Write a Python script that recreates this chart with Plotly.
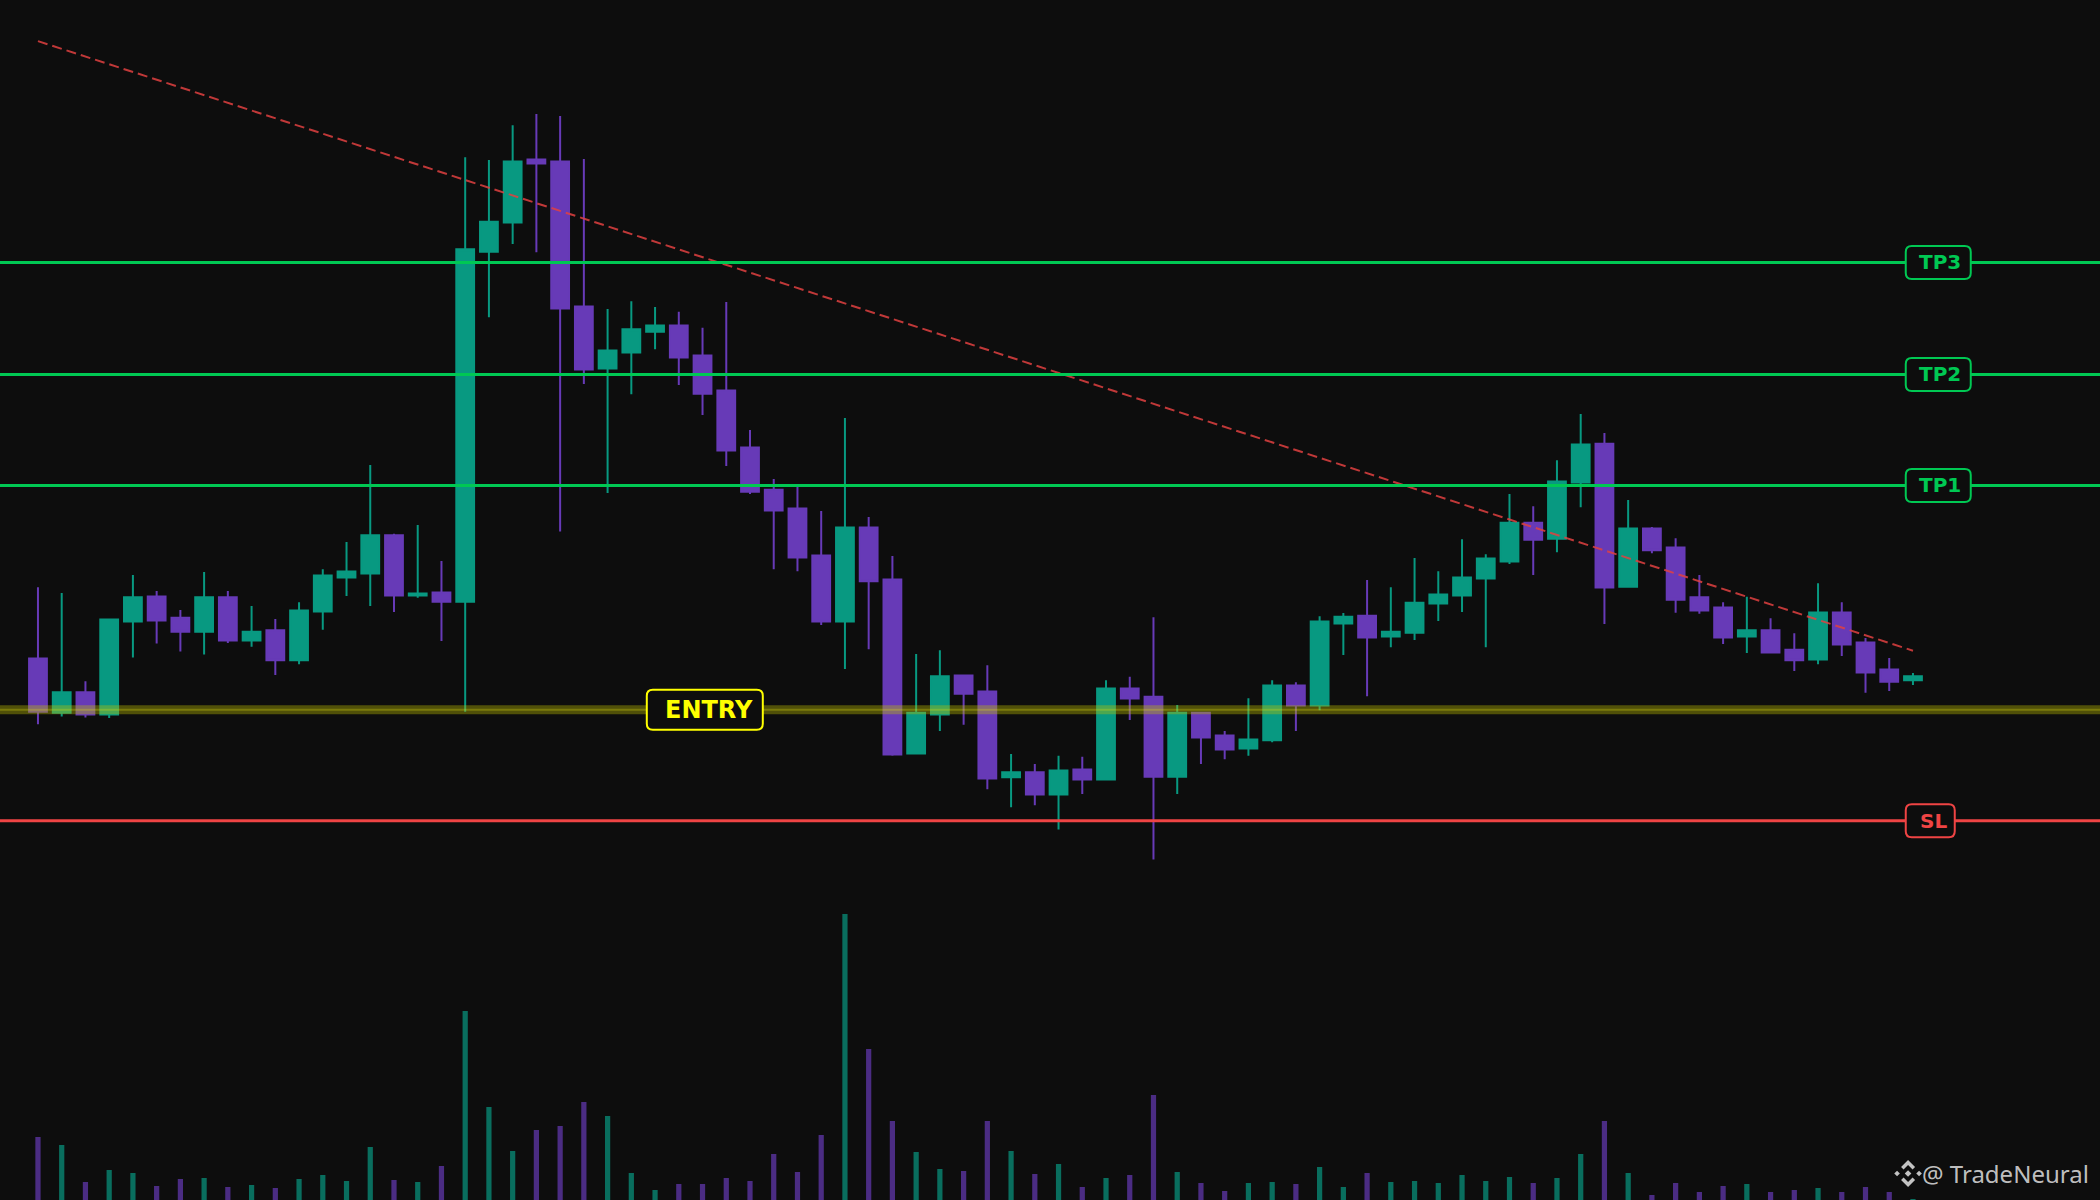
import plotly.graph_objects as go

bg_color = "#0d0d0d"
up_color = "#089981"
down_color = "#673ab7"
tp_color = "#00c853"
sl_color = "#ef4444"
entry_color = "#ffff00"

# candle data (arbitrary price units)
opens = [34.16, 28.73, 30.77, 28.54, 37.84, 40.36, 38.23, 36.83, 40.27, 35.95,
         36.97, 33.97, 38.86, 42.25, 42.64, 46.47, 40.46, 40.75, 39.83, 74.83,
         77.74, 84.04, 83.84, 69.35, 63.15, 64.75, 66.83, 67.46, 64.45, 60.96,
         55.24, 51.03, 49.14, 44.44, 37.84, 47.25, 42.06, 24.66, 28.54, 32.46,
         30.86, 22.28, 22.77, 20.54, 23.06, 22.04, 31.15, 30.33, 22.33, 28.73,
         26.45, 25.14, 25.97, 31.44, 29.46, 37.65, 38.42, 36.34, 36.73, 39.64,
         40.46, 42.16, 43.85, 47.73, 46.13, 51.75, 55.63, 41.33, 47.15, 45.26,
         40.27, 39.25, 36.34, 36.97, 35.03, 34.06, 38.76, 35.76, 33.04, 31.98]
highs = [41.28, 40.70, 31.88, 38.13, 42.50, 40.90, 39.01, 42.79, 40.90, 39.39,
         38.09, 39.78, 43.08, 45.79, 53.50, 46.62, 47.49, 43.90, 84.28, 83.99,
         87.48, 88.59, 88.40, 84.09, 69.11, 69.88, 69.30, 68.82, 67.22, 69.79,
         56.99, 52.09, 51.37, 48.89, 58.20, 48.31, 44.39, 34.60, 34.98, 32.56,
         33.48, 24.61, 23.59, 24.42, 24.32, 31.98, 32.32, 38.28, 29.51, 28.83,
         26.89, 30.18, 31.98, 31.78, 38.38, 38.71, 42.01, 41.28, 44.19, 42.88,
         46.08, 44.58, 50.59, 49.38, 53.98, 58.59, 56.70, 50.01, 47.29, 46.18,
         42.50, 39.78, 40.32, 38.18, 36.68, 41.67, 39.78, 36.19, 34.21, 32.70]
lows = [27.57, 28.34, 28.25, 28.20, 34.26, 35.66, 34.84, 34.55, 35.71, 35.32,
        32.51, 33.58, 37.02, 40.41, 39.39, 38.81, 40.22, 35.90, 28.83, 68.28,
        75.60, 74.78, 46.86, 61.59, 50.69, 60.58, 65.08, 61.50, 58.49, 53.40,
        50.59, 43.08, 42.88, 37.50, 33.09, 35.08, 24.42, 24.56, 26.89, 27.52,
        21.07, 19.28, 19.47, 17.05, 20.59, 21.99, 28.00, 14.04, 20.59, 23.59,
        24.08, 24.42, 25.77, 26.89, 28.97, 34.50, 30.38, 35.27, 36.00, 37.89,
        38.81, 35.27, 43.61, 42.50, 44.77, 49.28, 37.60, 41.24, 44.68, 38.72,
        38.62, 35.61, 34.69, 34.64, 32.90, 33.58, 34.40, 30.72, 30.91, 31.49]
closes = [28.83, 30.77, 28.54, 38.04, 40.27, 37.94, 36.83, 40.27, 35.95, 36.83,
          33.97, 38.96, 42.45, 42.84, 46.47, 40.46, 40.65, 39.83, 75.07, 77.83,
          83.84, 83.65, 69.16, 63.05, 64.94, 67.07, 67.46, 64.26, 60.63, 54.95,
          50.83, 48.94, 44.24, 37.84, 47.25, 41.87, 24.56, 28.73, 32.37, 30.62,
          22.14, 22.77, 20.54, 22.96, 22.04, 31.15, 30.14, 22.33, 28.73, 26.26,
          25.05, 26.06, 31.44, 29.46, 37.84, 38.33, 36.24, 36.83, 39.73, 40.56,
          42.25, 44.14, 47.73, 46.03, 51.85, 55.54, 41.24, 47.15, 44.97, 40.02,
          38.96, 36.24, 36.97, 34.74, 33.97, 38.76, 35.56, 32.75, 31.83, 32.37]
# volume in K
volumes = [63, 55, 18, 30, 27, 14, 21, 22, 13, 15,
           12, 21, 25, 19, 53, 20, 18, 34, 189, 93,
           49, 70, 74, 98, 84, 27, 10, 16, 16, 22,
           19, 46, 28, 65, 286, 151, 79, 48, 31, 29,
           79, 49, 26, 36, 13, 22, 25, 105, 28, 17,
           9, 17, 18, 16, 33, 13, 27, 18, 19, 17,
           25, 19, 23, 17, 22, 46, 79, 27, 5, 17,
           8, 14, 16, 8, 10, 12, 8, 13, 8, 1]

level_names = ["TP3", "TP2", "TP1", "ENTRY", "SL"]
level_prices = [73.76, 62.56, 51.46, 29.02, 17.92]

trend_x = [0, 79]
trend_y = [95.89, 34.93]

idx = list(range(len(opens)))
vol_colors = ["rgba(8,153,129,0.7)" if c >= o else "rgba(103,58,183,0.7)"
              for o, c in zip(opens, closes)]


def rounded_box(w, h, r):
    # path in pixels, left edge at 0, vertically centred
    t, b = h / 2, -h / 2
    return (f"M {r},{b} L {w - r},{b} Q {w},{b} {w},{b + r} "
            f"L {w},{t - r} Q {w},{t} {w - r},{t} L {r},{t} "
            f"Q 0,{t} 0,{t - r} L 0,{b + r} Q 0,{b} {r},{b} Z")


fig = go.Figure()
fig.add_trace(
    go.Bar(
        x=idx,
        y=volumes,
        width=0.22,
        marker=dict(color=vol_colors, line=dict(width=0)),
        yaxis="y2",
        hoverinfo="skip",
    )
)
fig.add_trace(
    go.Candlestick(
        x=idx,
        open=opens,
        high=highs,
        low=lows,
        close=closes,
        increasing=dict(line=dict(color=up_color, width=2), fillcolor=up_color),
        decreasing=dict(line=dict(color=down_color, width=2), fillcolor=down_color),
        whiskerwidth=0,
    )
)
fig.add_trace(
    go.Scatter(
        x=trend_x,
        y=trend_y,
        mode="lines",
        line=dict(color="rgba(225,65,65,0.85)", width=2, dash="10px,5px"),
        hoverinfo="skip",
    )
)

# horizontal levels
for name, price in zip(level_names, level_prices):
    if name == "ENTRY":
        fig.add_shape(type="line", xref="paper", x0=0, x1=1, yref="y", y0=price, y1=price,
                      line=dict(color="rgba(190,190,0,0.38)", width=9))
        fig.add_shape(type="line", xref="paper", x0=0, x1=1, yref="y", y0=price, y1=price,
                      line=dict(color="rgba(220,220,20,0.3)", width=2))
    else:
        col = sl_color if name == "SL" else tp_color
        fig.add_shape(type="line", xref="paper", x0=0, x1=1, yref="y", y0=price, y1=price,
                      line=dict(color=col, width=3))

# label boxes: (left edge in paper, width px, height px, text centre in paper, font size)
label_boxes = {
    "TP3": (0.9075, 65, 33, 0.9240, 20),
    "TP2": (0.9075, 65, 33, 0.9240, 20),
    "TP1": (0.9075, 65, 33, 0.9240, 20),
    "ENTRY": (0.3080, 116, 40, 0.3376, 24),
    "SL": (0.9075, 49, 33, 0.9205, 20),
}
for name, price in zip(level_names, level_prices):
    left, w, h, tx, fs = label_boxes[name]
    col = entry_color if name == "ENTRY" else (sl_color if name == "SL" else tp_color)
    fig.add_shape(
        type="path",
        xref="paper", xsizemode="pixel", xanchor=left,
        yref="y", ysizemode="pixel", yanchor=price,
        path=rounded_box(w, h, 6),
        line=dict(color=col, width=2),
        fillcolor=bg_color,
    )
    fig.add_annotation(
        x=tx, xref="paper", y=price, yref="y",
        text=name, showarrow=False,
        xanchor="center", yanchor="middle",
        font=dict(family="DejaVu Sans", size=fs, color=col, weight="bold"),
    )

# watermark logo
logo_color = "rgba(215,215,215,0.9)"
logo_paths = [
    "M -7,6.5 L 0,13.5 L 7,6.5 L 4.5,4 L 0,8.5 L -4.5,4 Z",
    "M -7,-6.5 L 0,-13.5 L 7,-6.5 L 4.5,-4 L 0,-8.5 L -4.5,-4 Z",
    "M -13.8,0 L -11,2.8 L -8.2,0 L -11,-2.8 Z",
    "M 13.8,0 L 11,2.8 L 8.2,0 L 11,-2.8 Z",
    "M -3.3,0 L 0,3.3 L 3.3,0 L 0,-3.3 Z",
]
for p in logo_paths:
    fig.add_shape(
        type="path",
        xref="paper", xsizemode="pixel", xanchor=0.9086,
        yref="paper", ysizemode="pixel", yanchor=0.0221,
        path=p, line=dict(width=0), fillcolor=logo_color,
    )
fig.add_annotation(
    x=0.9957, xref="paper", y=0.0217, yref="paper",
    text="@ TradeNeural", showarrow=False,
    xanchor="right", yanchor="middle",
    font=dict(family="Noto Sans", size=24, color=logo_color),
)

fig.update_layout(
    width=2100,
    height=1200,
    margin=dict(l=0, r=0, t=0, b=0, pad=0),
    paper_bgcolor=bg_color,
    plot_bgcolor=bg_color,
    showlegend=False,
    boxgap=0.25,
    boxgroupgap=0,
    xaxis=dict(range=[-1.6, 86.88], visible=False, rangeslider=dict(visible=False),
               showgrid=False, zeroline=False),
    yaxis=dict(range=[-20, 100], domain=[0, 1], visible=False, showgrid=False, zeroline=False),
    yaxis2=dict(range=[0, 300], domain=[0, 0.25], anchor="x", visible=False,
                showgrid=False, zeroline=False),
)

fig.write_html("out.html", config={"displayModeBar": False},
               post_script="document.body.style.margin='0';")
